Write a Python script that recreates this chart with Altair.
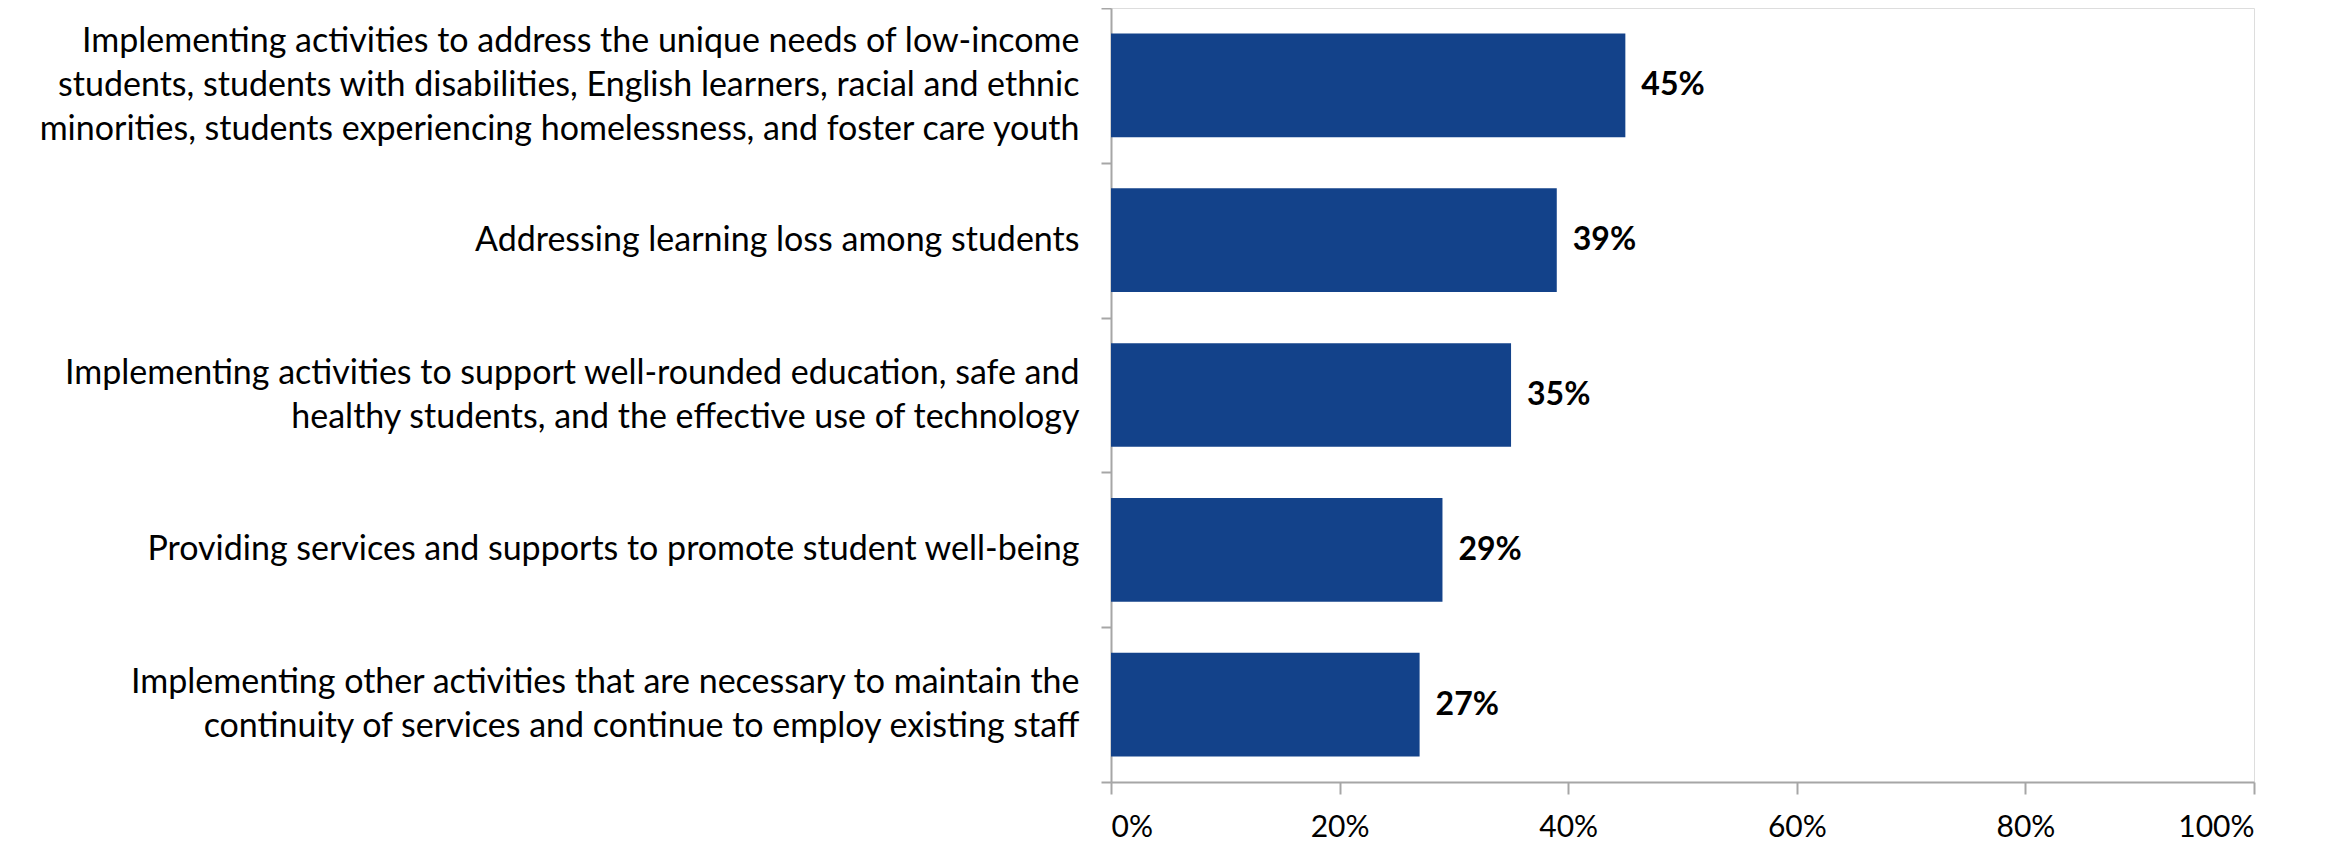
import altair as alt
import pandas as pd

categories = [
    "Implementing activities to address the unique needs of low-income|students, students with disabilities, English learners, racial and ethnic|minorities, students experiencing homelessness, and foster care youth",
    "Addressing learning loss among students",
    "Implementing activities to support well-rounded education, safe and|healthy students, and the effective use of technology",
    "Providing services and supports to promote student well-being",
    "Implementing other activities that are necessary to maintain the|continuity of services and continue to employ existing staff",
]
values = [0.45, 0.39, 0.35, 0.29, 0.27]
x_ticks = [0, 0.2, 0.4, 0.6, 0.8, 1.0]

df = pd.DataFrame({"cat": categories, "val": values})

FONT = "Lato"
GREY = "#a6a6a6"
LH = 44

y_enc = alt.Y(
    "cat:N",
    sort=categories,
    title=None,
    scale=alt.Scale(paddingInner=0, paddingOuter=0),
    axis=alt.Axis(
        labelExpr="split(datum.label, '|')",
        labelFontSize=34,
        labelFont=FONT,
        labelColor="#000000",
        labelLineHeight=LH,
        labelLimit=1200,
        labelPadding=22,
        labelOffset={
            "condition": [
                {"test": "length(split(datum.label, '|')) == 3", "value": -LH},
                {"test": "length(split(datum.label, '|')) == 2", "value": -LH / 2},
            ],
            "value": 0,
        },
        tickBand="extent",
        tickSize=10,
        tickColor=GREY,
        domainColor=GREY,
        tickWidth=2,
        domainWidth=2,
        labelAlign="right",
    ),
)

x_enc = alt.X(
    "val:Q",
    title=None,
    scale=alt.Scale(domain=[0, 1], nice=False),
    axis=alt.Axis(
        values=x_ticks,
        format=".0%",
        labelFontSize=30,
        labelFont=FONT,
        labelColor="#000000",
        labelPadding=18,
        tickSize=12,
        tickColor=GREY,
        domainColor=GREY,
        tickWidth=2,
        domainWidth=2,
        grid=False,
    ),
)

bars = alt.Chart(df).mark_bar(color="#13428A", height={"band": 0.67}).encode(x=x_enc, y=y_enc)

labels = alt.Chart(df).mark_text(
    align="left", baseline="middle", dx=16, fontSize=32, fontWeight="bold", font=FONT, color="#000000"
).encode(
    x="val:Q",
    y=alt.Y("cat:N", sort=categories),
    text=alt.Text("val:Q", format=".0%"),
)

chart = (
    (bars + labels)
    .properties(
        width=1143,
        height=774,
        autosize=alt.AutoSizeParams(type="none"),
        padding={"left": 1103, "top": 0, "right": 60, "bottom": 60},
    )
    .configure_view(stroke=None, strokeWidth=0)
    .configure(background="white")
)

chart.save("out.html", embed_options={"renderer": "svg", "actions": False})
